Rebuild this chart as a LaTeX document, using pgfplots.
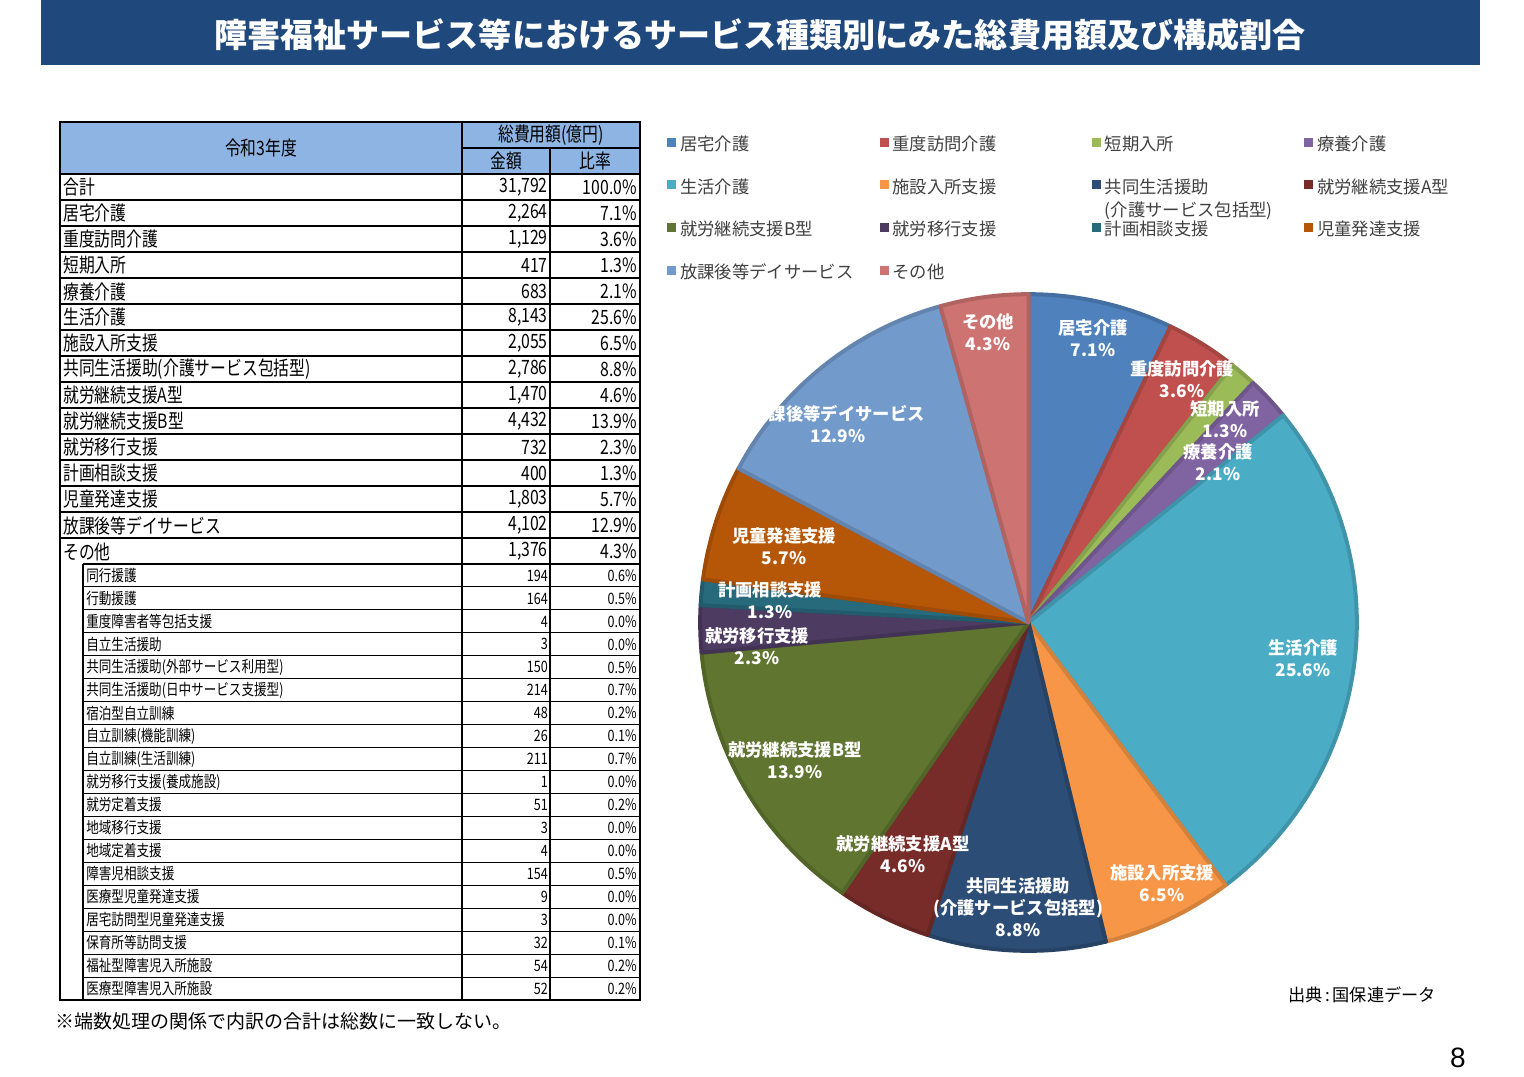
\documentclass[border=0pt]{standalone}
\usepackage{pgfplots}
\pgfplotsset{compat=1.18}
\usepackage{fontspec}
\setmainfont{Noto Sans CJK JP}
\newfontfamily\tblfont[FakeStretch=0.8]{Noto Sans CJK JP}
\newfontfamily\numfont{Liberation Sans}
\definecolor{titlebg}{RGB}{31,73,125}
\definecolor{hdr}{RGB}{141,180,226}
\definecolor{legtext}{RGB}{64,64,64}
\definecolor{c1}{RGB}{79,129,189}
\definecolor{c2}{RGB}{192,80,77}
\definecolor{c3}{RGB}{155,187,89}
\definecolor{c4}{RGB}{128,100,162}
\definecolor{c5}{RGB}{75,172,198}
\definecolor{c6}{RGB}{247,150,70}
\definecolor{c7}{RGB}{44,77,117}
\definecolor{c8}{RGB}{119,44,42}
\definecolor{c9}{RGB}{95,117,48}
\definecolor{c10}{RGB}{77,59,98}
\definecolor{c11}{RGB}{39,106,124}
\definecolor{c12}{RGB}{182,87,8}
\definecolor{c13}{RGB}{114,154,202}
\definecolor{c14}{RGB}{205,115,113}
\newcommand\legbox[1]{\raisebox{0pt}[10pt][3pt]{\makebox[149.5pt][l]{#1}}}
\newcommand\mrow[4]{%
  \node[anchor=west,inner sep=0pt] at (63,#1) {#2};
  \node[anchor=east,inner sep=0pt] at (548,#1) {#3};
  \node[anchor=east,inner sep=0pt] at (637,#1) {#4};}
\newcommand\srow[4]{%
  \node[anchor=west,inner sep=0pt] at (86,#1) {#2};
  \node[anchor=east,inner sep=0pt] at (548,#1) {#3};
  \node[anchor=east,inner sep=0pt] at (637,#1) {#4};}
\begin{document}
\begin{tikzpicture}
\begin{scope}[x=0.75pt,y=-0.75pt]
\path[use as bounding box] (0,0) rectangle (1524,1076);
% title banner
\fill[titlebg] (41,0) rectangle (1480,65);
\node[text=white,font=\fontsize{24.8pt}{28pt}\selectfont\bfseries] at (760,35) {障害福祉サービス等におけるサービス種類別にみた総費用額及び構成割合};
% table
\fill[hdr] (60,122) rectangle (640,174);
\draw[line width=0.8pt] (462,148) -- (640,148);
\foreach \i in {0,...,14} {\draw[line width=1.1pt] (60,174+26*\i) -- (640,174+26*\i);}
\draw[line width=1.1pt] (83,564) -- (640,564);
\foreach \j in {1,...,18} {\draw[line width=0.8pt] (83,564+22.947*\j) -- (640,564+22.947*\j);}
\draw[line width=1.1pt] (462,122) -- (462,1000);
\draw[line width=1.1pt] (550,148) -- (550,1000);
\draw[line width=0.8pt] (83,564) -- (83,1000);
\draw[line width=1.6pt] (60,122) rectangle (640,1000);
\begingroup
\tblfont\fontsize{14.8pt}{16pt}\selectfont
\node at (261,148) {令和3年度};
\node at (551,135) {総費用額(億円)};
\node at (506,161) {金額};
\node at (595,161) {比率};
\mrow{187.5}{合計}{31,792}{100.0\%}
\mrow{213.5}{居宅介護}{2,264}{7.1\%}
\mrow{239.5}{重度訪問介護}{1,129}{3.6\%}
\mrow{265.5}{短期入所}{417}{1.3\%}
\mrow{291.5}{療養介護}{683}{2.1\%}
\mrow{317.5}{生活介護}{8,143}{25.6\%}
\mrow{343.5}{施設入所支援}{2,055}{6.5\%}
\mrow{369.5}{共同生活援助(介護サービス包括型)}{2,786}{8.8\%}
\mrow{395.5}{就労継続支援A型}{1,470}{4.6\%}
\mrow{421.5}{就労継続支援B型}{4,432}{13.9\%}
\mrow{447.5}{就労移行支援}{732}{2.3\%}
\mrow{473.5}{計画相談支援}{400}{1.3\%}
\mrow{499.5}{児童発達支援}{1,803}{5.7\%}
\mrow{525.5}{放課後等デイサービス}{4,102}{12.9\%}
\mrow{551.5}{その他}{1,376}{4.3\%}
\endgroup
\begingroup
\tblfont\fontsize{11.8pt}{13pt}\selectfont
\srow{575.5}{同行援護}{194}{0.6\%}
\srow{598.4}{行動援護}{164}{0.5\%}
\srow{621.4}{重度障害者等包括支援}{4}{0.0\%}
\srow{644.3}{自立生活援助}{3}{0.0\%}
\srow{667.3}{共同生活援助(外部サービス利用型)}{150}{0.5\%}
\srow{690.2}{共同生活援助(日中サービス支援型)}{214}{0.7\%}
\srow{713.2}{宿泊型自立訓練}{48}{0.2\%}
\srow{736.1}{自立訓練(機能訓練)}{26}{0.1\%}
\srow{759.1}{自立訓練(生活訓練)}{211}{0.7\%}
\srow{782.0}{就労移行支援(養成施設)}{1}{0.0\%}
\srow{805.0}{就労定着支援}{51}{0.2\%}
\srow{827.9}{地域移行支援}{3}{0.0\%}
\srow{850.9}{地域定着支援}{4}{0.0\%}
\srow{873.8}{障害児相談支援}{154}{0.5\%}
\srow{896.8}{医療型児童発達支援}{9}{0.0\%}
\srow{919.7}{居宅訪問型児童発達支援}{3}{0.0\%}
\srow{942.7}{保育所等訪問支援}{32}{0.1\%}
\srow{965.6}{福祉型障害児入所施設}{54}{0.2\%}
\srow{988.5}{医療型障害児入所施設}{52}{0.2\%}
\endgroup
\node[anchor=west,inner sep=0pt,font=\fontsize{14.25pt}{16pt}\selectfont] at (55,1021) {※端数処理の関係で内訳の合計は総数に一致しない。};
\node[anchor=west,inner sep=0pt,font=\fontsize{12.9pt}{15pt}\selectfont] at (1288,995) {出典\hspace{2pt}:\hspace{2pt}国保連データ};
\node[font=\numfont\fontsize{21pt}{24pt}\selectfont] at (1458,1058) {8};
\end{scope}
\begin{axis}[
  at={(771.375pt,-466.875pt)}, anchor=center,
  width=496.5pt, height=496.5pt, scale only axis,
  xmin=-1, xmax=1, ymin=-1, ymax=1,
  hide axis, clip=false,
  legend columns=4,
  legend cell align=left,
  legend style={at={(-0.0461,1.2338)}, anchor=north west, draw=none, fill=none,
    inner sep=0pt, font=\fontsize{13pt}{15pt}\selectfont, text=legtext,
    row sep=20.5pt,
    /tikz/every odd column/.append style={column sep=3pt},
    /tikz/every even column/.append style={column sep=0pt},
    nodes={inner sep=0pt}},
  legend image code/.code={\path[#1,draw=none] (0pt,-1.5pt) rectangle (6.75pt,5.25pt);},
  legend entries={{\legbox{居宅介護}},{\legbox{重度訪問介護}},{\legbox{短期入所}},{\legbox{療養介護}},
    {\legbox{生活介護}},{\legbox{施設入所支援}},{\legbox{\vtop{\baselineskip=17.25pt\hbox{共同生活援助}\hbox{(介護サービス包括型)}}}},{\legbox{就労継続支援A型}},
    {\legbox{就労継続支援B型}},{\legbox{就労移行支援}},{\legbox{計画相談支援}},{\legbox{児童発達支援}},
    {\legbox{放課後等デイサービス}},{\legbox{その他}}},
]
% amounts (億円); total 31792
\def\cumang{0}
\foreach \v/\c in {2264/c1,1129/c2,417/c3,683/c4,8143/c5,2055/c6,2786/c7,1470/c8,4432/c9,732/c10,400/c11,1803/c12,4102/c13,1376/c14}{
  \pgfmathsetmacro\sa{\cumang}
  \pgfmathsetmacro\sb{\cumang+\v/317.92*3.6}
  \edef\doslice{\noexpand\addplot[fill=\c, draw=\c!86!black, line width=3pt, line join=round, domain=\sa:\sb, samples=60] ({0.992*sin(x)},{0.992*cos(x)}) -- (axis cs:0,0) -- cycle;}
  \doslice
  \global\let\cumang\sb
}
\end{axis}
\begin{scope}[x=0.75pt,y=-0.75pt]
\tikzset{pl/.style={align=center,text=white,inner sep=0pt,font=\fontsize{13pt}{16.5pt}\selectfont\bfseries}}
\node[pl] at (988,332.5) {その他\\4.3\%};
\node[pl] at (1093,338) {居宅介護\\7.1\%};
\node[pl] at (1182,379) {重度訪問介護\\3.6\%};
\node[pl] at (1225,419) {短期入所\\1.3\%};
\node[pl] at (1218,462) {療養介護\\2.1\%};
\node[pl] at (1303,658) {生活介護\\25.6\%};
\node[pl] at (1162,883) {施設入所支援\\6.5\%};
\node[pl] at (1018,907) {共同生活援助\\(介護サービス包括型)\\8.8\%};
\node[pl] at (903,854) {就労継続支援A型\\4.6\%};
\node[pl] at (795,760) {就労継続支援B型\\13.9\%};
\node[pl] at (757,646.5) {就労移行支援\\2.3\%};
\node[pl] at (770,600.5) {計画相談支援\\1.3\%};
\node[pl] at (784,546) {児童発達支援\\5.7\%};
\node[pl] at (838,423.5) {放課後等デイサービス\\12.9\%};
\end{scope}
\end{tikzpicture}
\end{document}
